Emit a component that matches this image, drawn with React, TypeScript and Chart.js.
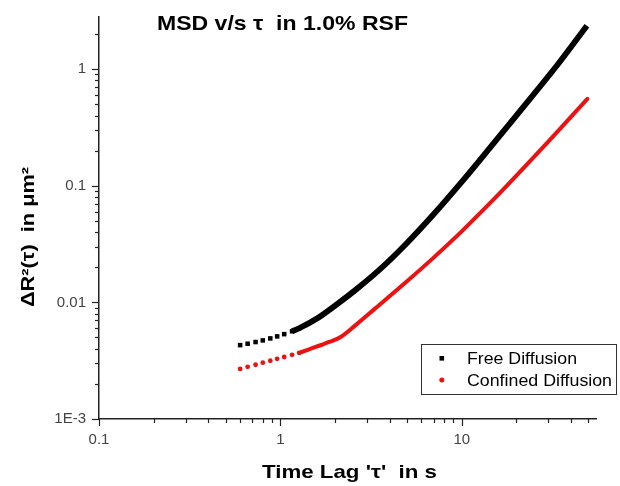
import React, { useEffect, useRef } from "react";
import { Chart, registerables } from "chart.js";

Chart.register(...registerables);

// ---- Data ----
const freeTau = [0.6, 0.66, 0.73, 0.8, 0.88, 0.96, 1.05, 1.16, 1.27, 1.6, 2.1, 2.6, 3.5, 4.9, 7, 10, 14, 20, 34.5, 49];
const freeMsd = [0.0043, 0.00442, 0.00457, 0.00472, 0.00491, 0.00511, 0.00534, 0.00565, 0.006, 0.0073, 0.0099, 0.0128, 0.0189, 0.0314, 0.057, 0.108, 0.203, 0.4, 1.14, 2.36];

const confTau = [0.6, 0.66, 0.73, 0.8, 0.88, 0.96, 1.05, 1.16, 1.27, 1.45, 1.86, 2.15, 2.62, 3.3, 4.9, 7, 10, 12.5, 17.7, 30, 49.3];
const confMsd = [0.00269, 0.0028, 0.00292, 0.00304, 0.00316, 0.00328, 0.0034, 0.00355, 0.00369, 0.00397, 0.00458, 0.00505, 0.00645, 0.00875, 0.0148, 0.0242, 0.0406, 0.0574, 0.1, 0.239, 0.557];

const xMajorTicks = [0.1, 1, 10];
const xMajorLabels = ["0.1", "1", "10"];
const yMajorTicks = [0.001, 0.01, 0.1, 1];
const yMajorLabels = ["1E-3", "0.01", "0.1", "1"];

const seriesNames = ["Free Diffusion", "Confined Diffusion"];
const titleText = "MSD v/s \u03c4  in 1.0% RSF";
const xTitleText = "Time Lag '\u03c4'  in s";
const yTitleText = "\u0394R\u00b2(\u03c4)  in \u03bcm\u00b2";

const BLACK = "#000000";
const RED = "#ee1111";
const FONT = '"Liberation Sans", Arial, Helvetica, sans-serif';

function labelFor(value: number, ticks: number[], labels: string[]) {
  const i = ticks.findIndex((t) => Math.abs(t - value) / t < 1e-6);
  return i >= 0 ? labels[i] : "";
}

function mantissaInfo(v: number) {
  const e = Math.floor(Math.log10(v) + 1e-9);
  const m = v / Math.pow(10, e);
  const isInt = Math.abs(m - Math.round(m)) < 1e-6;
  const major = isInt && Math.round(m) === 1;
  return { isInt, major };
}

function drawStretched(
  ctx: CanvasRenderingContext2D,
  text: string,
  x: number,
  y: number,
  font: string,
  targetW: number,
  align: CanvasTextAlign,
  rotate = 0
) {
  ctx.save();
  ctx.font = font;
  const w = ctx.measureText(text).width;
  const sx = w > 0 ? targetW / w : 1;
  ctx.translate(x, y);
  if (rotate) ctx.rotate(rotate);
  ctx.scale(sx, 1);
  ctx.textAlign = align;
  ctx.textBaseline = "alphabetic";
  ctx.fillStyle = "#000";
  ctx.fillText(text, 0, 0);
  ctx.restore();
}

const decorPlugin = {
  id: "decor",
  afterDraw(chart: any) {
    const ctx: CanvasRenderingContext2D = chart.ctx;
    const area = chart.chartArea;
    const xs = chart.scales.x;
    const ys = chart.scales.y;

    // tick marks
    ctx.save();
    ctx.strokeStyle = "#222";
    ctx.lineWidth = 1.2;
    xs.ticks.forEach((t: any) => {
      const info = mantissaInfo(t.value);
      if (!info.isInt) return;
      const px = Math.round(xs.getPixelForValue(t.value)) + 0.5;
      ctx.beginPath();
      ctx.moveTo(px, area.bottom);
      ctx.lineTo(px, area.bottom + (info.major ? 7 : 4));
      ctx.stroke();
    });
    ys.ticks.forEach((t: any) => {
      const info = mantissaInfo(t.value);
      if (!info.isInt) return;
      const py = Math.round(ys.getPixelForValue(t.value)) + 0.5;
      ctx.beginPath();
      ctx.moveTo(area.left - (info.major ? 7 : 4), py);
      ctx.lineTo(area.left, py);
      ctx.stroke();
    });
    ctx.restore();

    // titles
    drawStretched(ctx, titleText, 282.5, 30, `bold 21px ${FONT}`, 251, "center");
    drawStretched(ctx, xTitleText, 349.5, 478, `bold 19px ${FONT}`, 175, "center");
    drawStretched(ctx, yTitleText, 34, 237, `bold 18px ${FONT}`, 140, "center", -Math.PI / 2);

    // legend
    ctx.save();
    ctx.fillStyle = "#fff";
    ctx.fillRect(421.5, 344.5, 195, 50);
    ctx.strokeStyle = "#333";
    ctx.lineWidth = 1;
    ctx.strokeRect(421.5, 344.5, 195, 50);
    const ds0 = chart.data.datasets[0];
    const ds1 = chart.data.datasets[1];
    ctx.fillStyle = ds0.backgroundColor;
    ctx.fillRect(439.5, 356, 4.6, 4.6);
    ctx.fillStyle = ds1.backgroundColor;
    ctx.beginPath();
    ctx.arc(441.8, 380, 2.5, 0, Math.PI * 2);
    ctx.fill();
    ctx.restore();
    drawStretched(ctx, ds0.label, 467, 364, `16px ${FONT}`, 110, "left");
    drawStretched(ctx, ds1.label, 467, 386, `16px ${FONT}`, 145, "left");
  },
};

export default function App() {
  const ref = useRef<HTMLCanvasElement | null>(null);

  useEffect(() => {
    if (!ref.current) return;
    const mk = (tau: number[], msd: number[]) => tau.map((t, i) => ({ x: t, y: msd[i] }));
    const chart = new Chart(ref.current, {
      type: "line",
      data: {
        datasets: [
          {
            label: seriesNames[0],
            data: mk(freeTau, freeMsd),
            borderColor: BLACK,
            backgroundColor: BLACK,
            borderWidth: 5.8,
            pointStyle: "rect",
            pointRadius: (c: any) => (c.raw && c.raw.x <= 1.3 ? 3.2 : 0),
            pointBorderWidth: 0,
            pointHoverRadius: 0,
            cubicInterpolationMode: "monotone",
            segment: {
              borderColor: (c: any) => (c.p0.parsed.x < 1.15 ? "rgba(0,0,0,0)" : BLACK),
            },
          },
          {
            label: seriesNames[1],
            data: mk(confTau, confMsd),
            borderColor: RED,
            backgroundColor: RED,
            borderWidth: 4,
            borderCapStyle: "round",
            pointStyle: "circle",
            pointRadius: (c: any) => (c.raw && c.raw.x <= 1.3 ? 2.4 : 0),
            pointBorderWidth: 0,
            pointHoverRadius: 0,
            cubicInterpolationMode: "monotone",
            segment: {
              borderColor: (c: any) => (c.p0.parsed.x < 1.25 ? "rgba(0,0,0,0)" : RED),
            },
          },
        ],
      } as any,
      options: {
        animation: false,
        responsive: false,
        devicePixelRatio: 1,
        layout: { padding: { top: 17, right: 24, left: 0, bottom: 0 } },
        plugins: {
          legend: { display: false },
          tooltip: { enabled: false },
          title: { display: false },
        },
        events: [],
        scales: {
          x: {
            type: "logarithmic",
            min: 0.1,
            max: 55,
            afterFit: (s: any) => {
              s.height = 67;
              s.paddingLeft = 0;
              s.paddingRight = 0;
            },
            grid: { display: true, drawOnChartArea: false, drawTicks: false },
            border: { display: true, color: "#222", width: 1.5 },
            ticks: {
              autoSkip: false,
              maxRotation: 0,
              padding: 12,
              color: "#444",
              font: { family: FONT, size: 15 },
              callback: (v: any) => labelFor(Number(v), xMajorTicks, xMajorLabels),
            },
          },
          y: {
            type: "logarithmic",
            min: 0.001,
            max: 2.8,
            afterFit: (s: any) => {
              s.width = 99;
              s.paddingTop = 0;
              s.paddingBottom = 0;
            },
            grid: { display: true, drawOnChartArea: false, drawTicks: false },
            border: { display: true, color: "#222", width: 1.5 },
            ticks: {
              autoSkip: false,
              padding: 13,
              color: "#444",
              font: { family: FONT, size: 15 },
              callback: (v: any) => labelFor(Number(v), yMajorTicks, yMajorLabels),
            },
          },
        },
      } as any,
      plugins: [decorPlugin],
    });
    return () => chart.destroy();
  }, []);

  return (
    <div style={{ position: "fixed", left: 0, top: 0, width: 620, height: 486, background: "#fff" }}>
      <canvas ref={ref} width={620} height={486} style={{ display: "block" }} />
    </div>
  );
}
